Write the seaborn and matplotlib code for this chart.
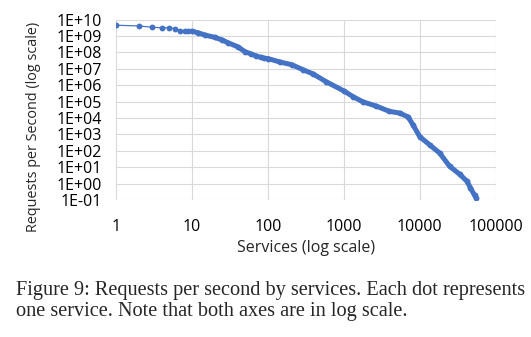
import numpy as np
import pandas as pd
import matplotlib
matplotlib.use("Agg")
import matplotlib.pyplot as plt
import seaborn as sns
from matplotlib.ticker import FixedLocator, FuncFormatter, NullLocator

# Services rank (x) and log10 of requests per second
services = [1, 2, 3, 4, 5, 6, 7, 8, 9, 10, 12, 15, 20, 25, 30, 40, 50, 60, 70, 80, 90,
            100, 144, 205, 290, 395, 590, 1000, 1320, 1790, 2690, 3990, 5440, 7030,
            8170, 10000, 13500, 18300, 24700, 33700, 41900, 46500, 52800, 55000]
log_rps = [9.65, 9.61, 9.53, 9.49, 9.49, 9.45, 9.33, 9.29, 9.29, 9.29, 9.19, 9.05, 8.91,
           8.75, 8.58, 8.34, 8.04, 7.90, 7.78, 7.70, 7.64,
           7.62, 7.41, 7.25, 6.94, 6.68, 6.20, 5.65, 5.30, 4.98, 4.72, 4.40, 4.30, 4.06,
           3.57, 2.86, 2.36, 1.86, 1.06, 0.56, 0.14, -0.26, -0.72, -0.85]
rps = [10 ** v for v in log_rps]

x_ticks = [1, 10, 100, 1000, 10000, 100000]
y_ticks = [10.0 ** e for e in range(-1, 11)]

df = pd.DataFrame({"services": services, "rps": rps})
dense = df[df["services"] >= 10]

sns.set_theme(style="white")
plt.rcParams["font.family"] = ["Open Sans", "DejaVu Sans"]

fig = plt.figure(figsize=(5.31, 3.37), dpi=100)
ax = fig.add_axes([0.2185, 0.4065, 0.715, 0.5356])

blue = "#4472C4"
sns.lineplot(data=dense, x="services", y="rps", ax=ax, color=blue, linewidth=3.6,
             sort=False, estimator=None)
sns.lineplot(data=df, x="services", y="rps", ax=ax, color=blue, linewidth=0.9,
             marker="o", markersize=4.2, markeredgewidth=0, sort=False, estimator=None)

ax.set_xscale("log")
ax.set_yscale("log")
ax.set_xlim(1, 100000)
ax.set_ylim(0.1, 1e10)
ax.xaxis.set_major_locator(FixedLocator(x_ticks))
ax.yaxis.set_major_locator(FixedLocator(y_ticks))
ax.xaxis.set_minor_locator(NullLocator())
ax.yaxis.set_minor_locator(NullLocator())
ax.xaxis.set_major_formatter(FuncFormatter(lambda v, p: f"{int(round(v))}"))

def yfmt(v, p):
    e = int(round(np.log10(v)))
    return f"1E{'+' if e >= 0 else '-'}{abs(e):02d}"

ax.yaxis.set_major_formatter(FuncFormatter(yfmt))
ax.grid(True, which="major", color="#d9d9d9", linewidth=0.8)
ax.set_axisbelow(True)
for s in ax.spines.values():
    s.set_visible(False)
ax.tick_params(axis="both", length=0, labelsize=11.5, colors="black")
ax.tick_params(axis="y", pad=10)
ax.tick_params(axis="x", pad=14)
ax.set_xlabel("Services (log scale)", fontsize=11.5, labelpad=3)
ax.set_ylabel("Requests per Second (log scale)", fontsize=10.4, va="center")
ax.yaxis.set_label_coords(-0.2186, 0.407)

fig.text(16 / 531, 1 - 295 / 337, "Figure 9: Requests per second by services. Each dot represents",
         family=["Liberation Serif"], fontsize=14.6, va="baseline", ha="left")
fig.text(16 / 531, 1 - 316 / 337, "one service. Note that both axes are in log scale.",
         family=["Liberation Serif"], fontsize=14.6, va="baseline", ha="left")

fig.savefig("out.png", dpi=100, facecolor="white")
